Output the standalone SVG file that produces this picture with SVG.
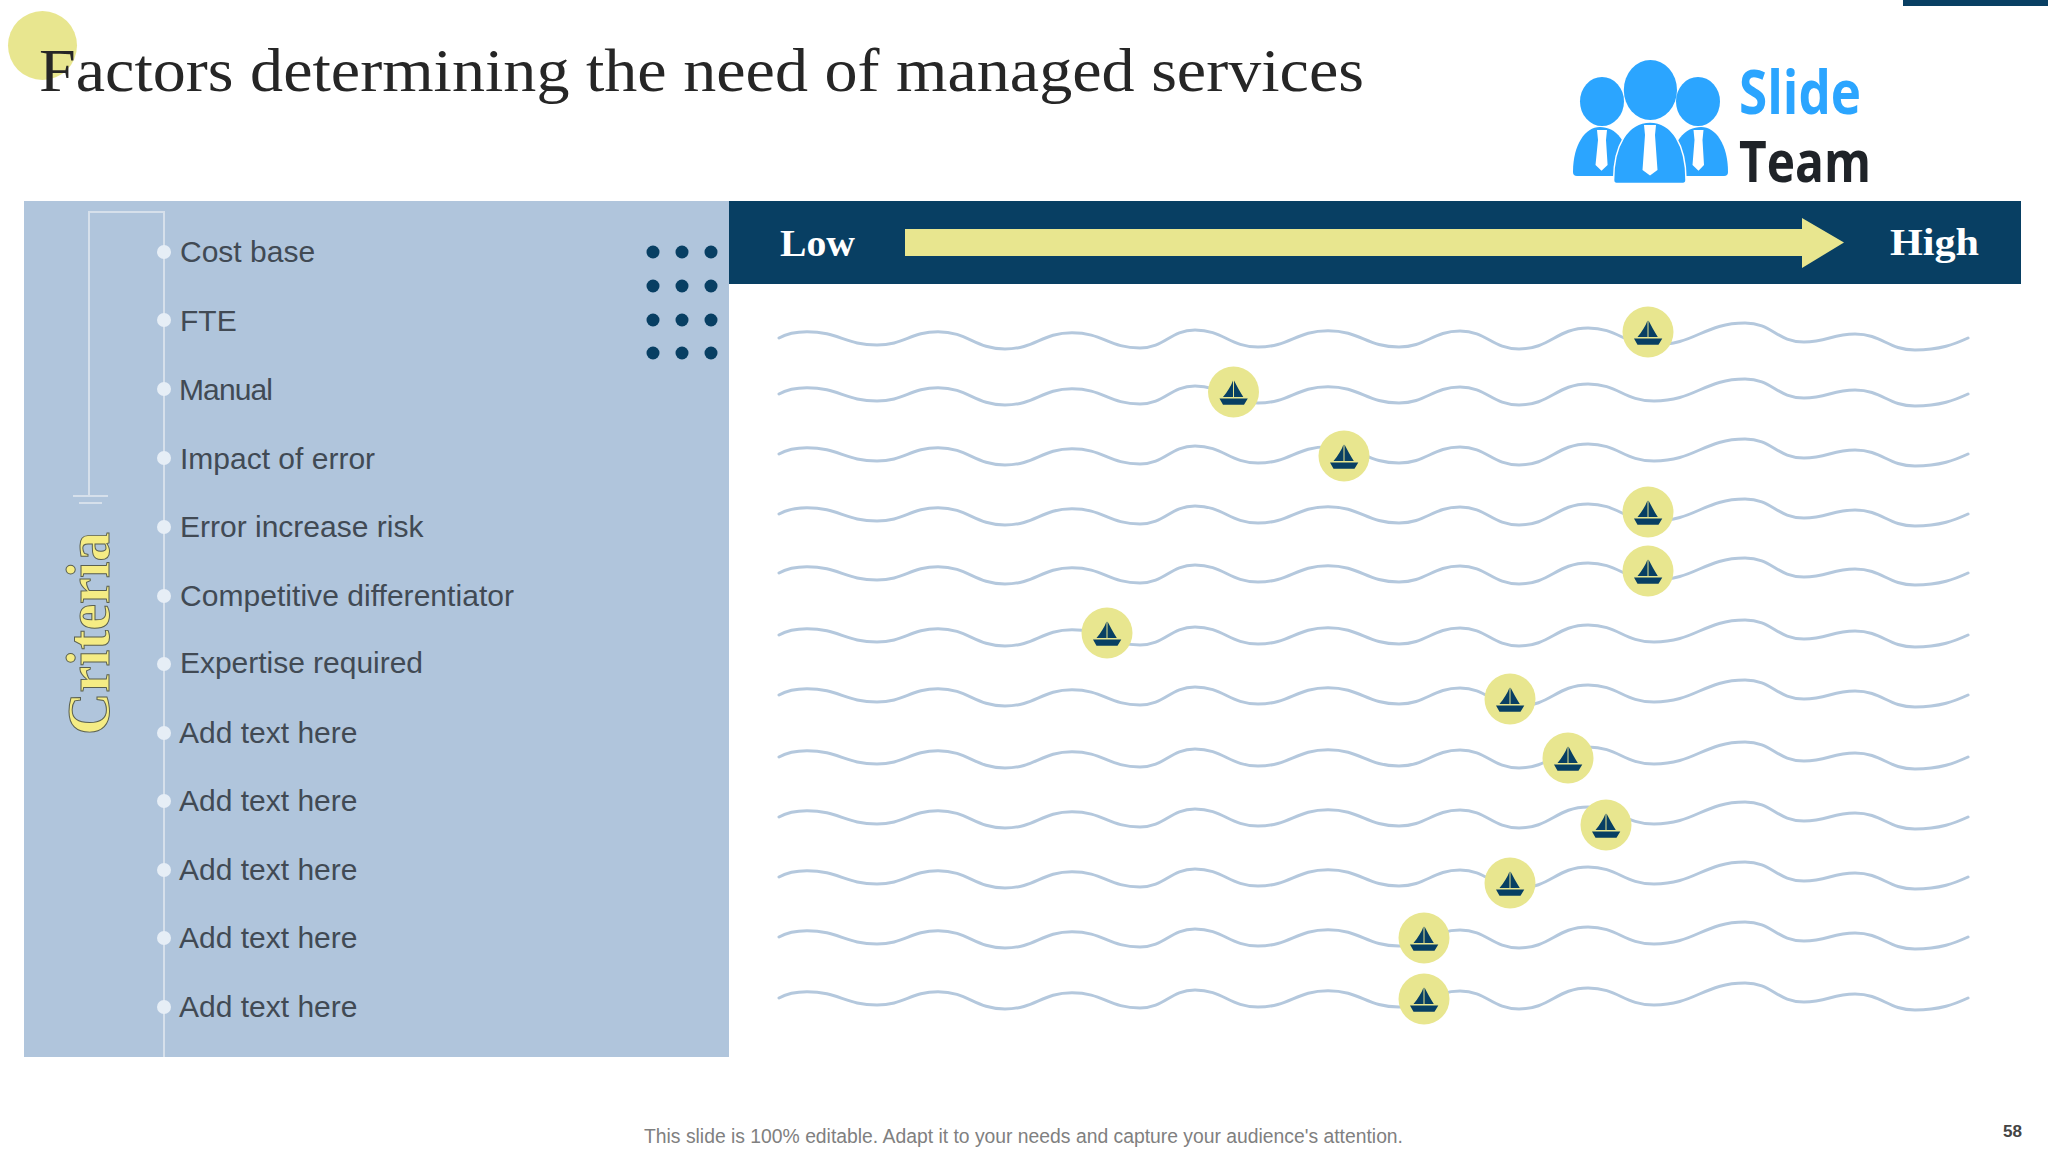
<svg xmlns="http://www.w3.org/2000/svg" xmlns:xlink="http://www.w3.org/1999/xlink" width="2048" height="1152" viewBox="0 0 2048 1152">
<style>
.lbl{font-family:"Liberation Sans",Arial,sans-serif;font-size:30px;fill:#414A54}
.dot{fill:#E6EEF6}
.grid{fill:#083F63}
.rail{stroke:#D6E0EB;stroke-width:2;fill:none}
.wave{fill:none;stroke:#B4C8DD;stroke-width:3;stroke-linecap:round}
.mark{fill:#E8E68F}
.head{font-family:"Liberation Serif","Times New Roman",serif;font-weight:700;font-size:38px;fill:#fff}
.blue{fill:#2BA5FF}
</style>
<defs>
<path id="w" class="wave" d="M779 338C786 334 795 331.7 807 331.7C838.5 331.7 845.5 345 877 345C904 345 911 331.7 938 331.7C968 331.7 975 349 1005 349C1035 349 1042 332.7 1072 332.7C1103 332.7 1109 348 1140 348C1165 348 1170 330 1195 330C1223 330 1230 347 1258 347C1289.5 347 1296.5 330.7 1328 330.7C1360 330.7 1367 347 1399 347C1426 347 1433 331 1460 331C1487 331 1492 349 1519 349C1550 349 1557 328 1588 328C1618 328 1624 345 1654 345C1695 345 1704 323 1745 323C1772 323 1777 342 1804 342C1827 342 1832 334 1855 334C1882 334 1888 350 1915 350C1940 350 1955 344 1968 338"/>
<g id="boat">
<circle class="mark" r="25.5"/>
<path fill="#083F63" d="M-.5-11.5V5H-10.5C-6-.5-2.5-6-.5-11.5ZM.5-11.5C3.5-6 6.5 0 9.8 5H.5ZM-14 6.5H14.3L10.5 12.7H-10.5Z"/>
</g>
</defs>
<rect width="2048" height="1152" fill="#fff"/>
<rect x="1903" y="0" width="145" height="6" fill="#083F63"/>
<circle cx="42.5" cy="45.5" r="34.5" fill="#E8E68F"/>
<text x="39" y="91" font-family="'Liberation Serif','Times New Roman',serif" font-size="61" fill="#262626" textLength="1325" lengthAdjust="spacingAndGlyphs">Factors determining the need of managed services</text>

<g id="logo">
<ellipse class="blue" cx="1602" cy="101.5" rx="22" ry="24.5"/>
<ellipse class="blue" cx="1698" cy="101.5" rx="22" ry="24.5"/>
<ellipse class="blue" cx="1650.4" cy="90" rx="26.6" ry="30"/>
<path class="blue" d="M1573 172C1573 145 1585 127 1600 127C1615 127 1630 140 1630 176H1577Q1573 176 1573 172Z"/>
<path class="blue" d="M1728 172C1728 145 1716 127 1701 127C1686 127 1670 140 1670 176H1724Q1728 176 1728 172Z"/>
<path class="blue" stroke="#fff" stroke-width="1.5" d="M1613.6 180C1613.6 145 1628 122 1650 122C1672 122 1686 145 1686 180Q1686 183.5 1683 183.5H1616.5Q1613.6 183.5 1613.6 180Z"/>
<path fill="#fff" d="M1644 125H1656L1655 135L1657.5 170L1650 175.5L1642.5 170L1645 135ZM1597 130H1607L1606 140L1607.6 165L1601.5 170.7L1595.5 165L1598 140ZM1693.5 130H1703.5L1702.5 140L1704 165L1698.5 170.7L1692.5 165L1694.5 140Z"/>
<text x="1739" y="114" font-family="'Open Sans',sans-serif" font-weight="700" font-size="60" fill="#2BA5FF" textLength="122" lengthAdjust="spacingAndGlyphs">Slide</text>
<text x="1739" y="182" font-family="'Open Sans',sans-serif" font-weight="700" font-size="57" fill="#1F2328" textLength="132" lengthAdjust="spacingAndGlyphs">Team</text>
</g>

<g id="criteria-panel">
<rect x="24" y="201" width="705" height="856" fill="#B0C5DC"/>
<path class="rail" d="M164 1057V212H89V496M73 496H108M79 503H102"/>
<text transform="translate(109 735) rotate(-90)" font-family="'Liberation Serif','Times New Roman',serif" font-size="62" font-weight="700" fill="#F5EC84" stroke="#5A6050" stroke-width="1" textLength="203" lengthAdjust="spacingAndGlyphs">Criteria</text>
<g id="dot-grid">
<circle class="grid" cx="653" cy="252" r="6.5"/><circle class="grid" cx="682" cy="252" r="6.5"/><circle class="grid" cx="711" cy="252" r="6.5"/>
<circle class="grid" cx="653" cy="286" r="6.5"/><circle class="grid" cx="682" cy="286" r="6.5"/><circle class="grid" cx="711" cy="286" r="6.5"/>
<circle class="grid" cx="653" cy="320" r="6.5"/><circle class="grid" cx="682" cy="320" r="6.5"/><circle class="grid" cx="711" cy="320" r="6.5"/>
<circle class="grid" cx="653" cy="353" r="6.5"/><circle class="grid" cx="682" cy="353" r="6.5"/><circle class="grid" cx="711" cy="353" r="6.5"/>
</g>
<g id="item-1"><circle class="dot" cx="164" cy="252" r="7"/><text class="lbl" x="180" y="262">Cost base</text></g>
<g id="item-2"><circle class="dot" cx="164" cy="320" r="7"/><text class="lbl" x="180" y="331">FTE</text></g>
<g id="item-3"><circle class="dot" cx="164" cy="389" r="7"/><text class="lbl" x="179" y="400" textLength="94">Manual</text></g>
<g id="item-4"><circle class="dot" cx="164" cy="458" r="7"/><text class="lbl" x="180" y="469">Impact of error</text></g>
<g id="item-5"><circle class="dot" cx="164" cy="527" r="7"/><text class="lbl" x="180" y="537">Error increase risk</text></g>
<g id="item-6"><circle class="dot" cx="164" cy="596" r="7"/><text class="lbl" x="180" y="606" textLength="334">Competitive differentiator</text></g>
<g id="item-7"><circle class="dot" cx="164" cy="664" r="7"/><text class="lbl" x="180" y="673" textLength="243">Expertise required</text></g>
<g id="item-8"><circle class="dot" cx="164" cy="733" r="7"/><text class="lbl" x="179" y="743">Add text here</text></g>
<g id="item-9"><circle class="dot" cx="164" cy="801" r="7"/><text class="lbl" x="179" y="811">Add text here</text></g>
<g id="item-10"><circle class="dot" cx="164" cy="870" r="7"/><text class="lbl" x="179" y="880">Add text here</text></g>
<g id="item-11"><circle class="dot" cx="164" cy="938" r="7"/><text class="lbl" x="179" y="948">Add text here</text></g>
<g id="item-12"><circle class="dot" cx="164" cy="1007" r="7"/><text class="lbl" x="179" y="1017">Add text here</text></g>
</g>

<g id="scale-header">
<rect x="729" y="201" width="1292" height="83" fill="#083F63"/>
<text class="head" x="780" y="256" textLength="75" lengthAdjust="spacingAndGlyphs">Low</text>
<text class="head" x="1890" y="255" textLength="89" lengthAdjust="spacingAndGlyphs">High</text>
<path fill="#E8E68F" d="M905 229H1802V218L1844 242.5L1802 268V256H905Z"/>
</g>

<g id="connectors">
<use href="#w"/>
<use href="#w" y="56"/>
<use href="#w" y="116"/>
<use href="#w" y="176"/>
<use href="#w" y="235"/>
<use href="#w" y="297"/>
<use href="#w" y="357"/>
<use href="#w" y="419"/>
<use href="#w" y="479"/>
<use href="#w" y="539"/>
<use href="#w" y="599"/>
<use href="#w" y="660"/>
</g>

<g id="markers">
<g id="marker-1"><use href="#boat" x="1648" y="332"/></g>
<g id="marker-2"><use href="#boat" x="1233.500" y="392"/></g>
<g id="marker-3"><use href="#boat" x="1344" y="456"/></g>
<g id="marker-4"><use href="#boat" x="1648" y="512"/></g>
<g id="marker-5"><use href="#boat" x="1648" y="571"/></g>
<g id="marker-6"><use href="#boat" x="1107" y="633"/></g>
<g id="marker-7"><use href="#boat" x="1510" y="699"/></g>
<g id="marker-8"><use href="#boat" x="1568" y="758"/></g>
<g id="marker-9"><use href="#boat" x="1606" y="825"/></g>
<g id="marker-10"><use href="#boat" x="1510" y="883"/></g>
<g id="marker-11"><use href="#boat" x="1424" y="938"/></g>
<g id="marker-12"><use href="#boat" x="1424" y="999"/></g>
</g>

<text x="644" y="1143" font-family="'Liberation Sans',Arial,sans-serif" font-size="20" fill="#808080" textLength="759" lengthAdjust="spacingAndGlyphs">This slide is 100% editable. Adapt it to your needs and capture your audience's attention.</text>
<text x="2003" y="1137" font-family="'Liberation Sans',Arial,sans-serif" font-size="17" font-weight="700" fill="#444" textLength="19" lengthAdjust="spacingAndGlyphs">58</text>
</svg>
